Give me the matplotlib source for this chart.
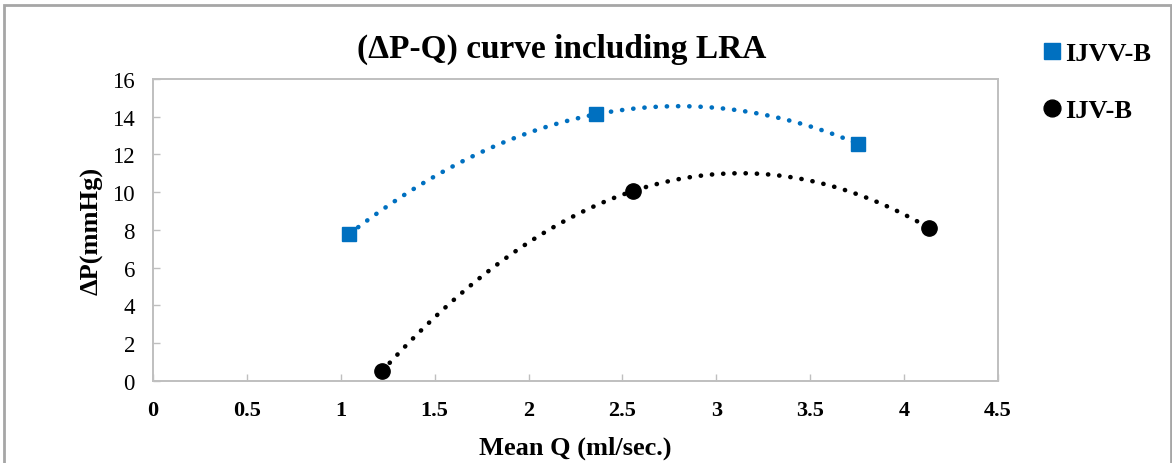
import numpy as np
import matplotlib
matplotlib.use("Agg")
import matplotlib.pyplot as plt
from matplotlib.patches import Rectangle

plt.rcParams['font.family'] = ['Liberation Serif', 'DejaVu Serif']

# Measured pressure drop against mean flow
q_ijvv = [1.045, 2.36, 3.755]
dp_ijvv = [7.78, 14.13, 12.56]
q_ijv = [1.22, 2.557, 4.133]
dp_ijv = [0.51, 10.06, 8.10]

series_names = ["IJVV-B", "IJV-B"]
x_ticks = [0, 0.5, 1, 1.5, 2, 2.5, 3, 3.5, 4, 4.5]
y_ticks = [0, 2, 4, 6, 8, 10, 12, 14, 16]

BLUE = "#0070C0"
GRID = "#BFBFBF"

fig = plt.figure(figsize=(11.72, 4.64), dpi=100)
W, H = 1172, 464
ax = fig.add_axes([153 / W, 1 - 381.7 / H, (998 - 153) / W, (381.7 - 80) / H])

def trend(ax, q, dp, color):
    # second-order polynomial trendline across the measured range
    coef = np.polyfit(q, dp, 2)
    xs = np.linspace(min(q), max(q), 400)
    ax.plot(xs, np.polyval(coef, xs), color=color, lw=3.3,
            linestyle=(0, (0.05, 2.4)), dash_capstyle='round', zorder=2)

trend(ax, q_ijvv, dp_ijvv, BLUE)
trend(ax, q_ijv, dp_ijv, "black")

ax.plot(q_ijvv, dp_ijvv, linestyle='none', marker='s', ms=10.5, color=BLUE,
        mec=BLUE, zorder=3, label=series_names[0])
ax.plot(q_ijv, dp_ijv, linestyle='none', marker='o', ms=11, color="black",
        zorder=3, label=series_names[1])

ax.set_xlim(0, 4.5)
ax.set_ylim(0, 16)
ax.set_xticks(x_ticks)
ax.set_xticklabels([f"{v:g}" for v in x_ticks], fontweight='bold', fontsize=16)
ax.set_yticks(y_ticks)
ax.set_yticklabels([f"{v:g}" for v in y_ticks], fontsize=16.5)
ax.tick_params(direction='in', length=5, width=1, color=GRID)
ax.tick_params(axis='x', pad=14)
ax.tick_params(axis='y', pad=13)
for s in ax.spines.values():
    s.set_color(GRID)
    s.set_linewidth(1.4)

ax.set_xlabel("Mean Q (ml/sec.)", fontsize=19, fontweight='bold', labelpad=11)
ax.set_ylabel("ΔP(mmHg)", fontsize=19, fontweight='bold', labelpad=6)

fig.text(562 / W, 1 - 49 / H, "(ΔP-Q) curve including LRA", fontsize=24,
         fontweight='bold', ha='center', va='center')

leg = fig.legend(loc='upper left', bbox_to_anchor=(1039 / W, 1 - 43 / H),
                 frameon=False, prop={'weight': 'bold', 'size': 19},
                 handletextpad=0.0, labelspacing=1.25, handlelength=1.0,
                 borderpad=0, borderaxespad=0, markerscale=1.1)

# chart frame
fig.patches.append(Rectangle((4 / W, -0.01), (1171 - 4) / W, 1.01 - 6 / H,
                             transform=fig.transFigure, fill=False,
                             edgecolor="#A6A6A6", lw=2))

fig.savefig("out.png", dpi=100)
